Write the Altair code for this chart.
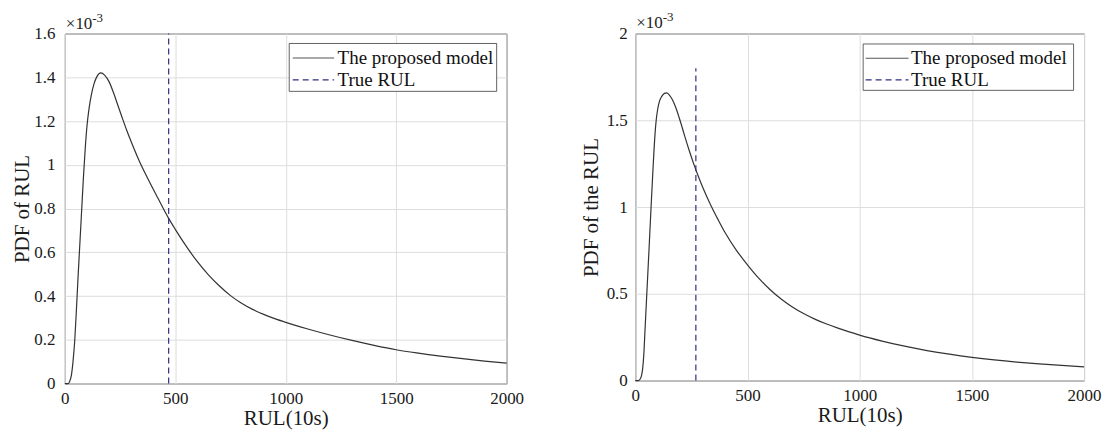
import altair as alt
import pandas as pd

FONT = "Liberation Serif"

# ---------------- data ----------------
x_ticks = [0, 500, 1000, 1500, 2000]

left_rul = [0, 15, 22, 30, 37, 45, 52, 60, 68, 76,
            84, 92, 100, 110, 120, 132, 145, 163, 180, 200,
            220, 240, 260, 280, 300, 340, 380, 420, 470, 500,
            550, 600, 650, 700, 750, 800, 850, 900, 950, 1000,
            1100, 1200, 1300, 1400, 1500, 1600, 1700, 1800, 1900, 2000]
left_pdf = [0, 0, 0.01, 0.04, 0.1, 0.2, 0.33, 0.49, 0.64, 0.79,
            0.94, 1.07, 1.175, 1.26, 1.32, 1.37, 1.403, 1.42, 1.41, 1.38,
            1.33, 1.272, 1.214, 1.158, 1.106, 1.01, 0.928, 0.85, 0.755, 0.705,
            0.627, 0.557, 0.497, 0.446, 0.402, 0.367, 0.339, 0.316, 0.2965, 0.2795,
            0.2495, 0.222, 0.197, 0.1745, 0.1545, 0.139, 0.1255, 0.1135, 0.1028, 0.093]
left_true_rul = [470]
left_rule_bottom = [0]
left_rule_top = [1.6]
left_yticks = [0, 0.2, 0.4, 0.6, 0.8, 1, 1.2, 1.4, 1.6]

right_rul = [0, 13, 20, 28, 33, 38, 43, 51, 61, 70,
             80, 88, 94, 100, 108, 118, 130, 140, 150, 165,
             180, 200, 220, 240, 260, 280, 300, 320, 342, 370,
             400, 450, 500, 550, 600, 650, 700, 750, 800, 850,
             900, 950, 1000, 1100, 1200, 1300, 1400, 1500, 1600, 1700,
             1800, 1900, 2000]
right_pdf = [0, 0, 0.005, 0.03, 0.07, 0.15, 0.28, 0.49, 0.75, 0.99,
             1.245, 1.42, 1.51, 1.565, 1.61, 1.638, 1.655, 1.658, 1.648, 1.62,
             1.575, 1.497, 1.41, 1.327, 1.25, 1.18, 1.116, 1.057, 0.996, 0.925,
             0.853, 0.752, 0.667, 0.59, 0.525, 0.47, 0.424, 0.386, 0.354, 0.327,
             0.3035, 0.282, 0.262, 0.2275, 0.198, 0.173, 0.152, 0.134, 0.119, 0.1065,
             0.096, 0.087, 0.079]
right_true_rul = [270]
right_rule_bottom = [0]
right_rule_top = [1.8]
right_yticks = [0, 0.5, 1, 1.5, 2]

legend_labels = ["The proposed model", "True RUL"]
exponent_base = "\u00d710"
exponent_power = "-3"

CURVE_COLOR = "#333333"
RUL_COLOR = "#2e2e7e"
ONE = alt.Data(values=[{"k": 1}])


def panel(rul, pdf, true_rul, rule_bottom, rule_top, yticks, ytitle, width, height,
          ytitle_pad, ylabel_pad, leg, exp_y):
    curve_df = pd.DataFrame({"RUL": rul, "PDF": pdf})
    rule_df = pd.DataFrame({"RUL": true_rul, "PDF": rule_bottom, "PDF_top": rule_top})

    xaxis = alt.Axis(values=x_ticks, format="d", title="RUL(10s)", titlePadding=1,
                     labelPadding=7, labelFlush=False)
    yaxis = alt.Axis(values=yticks, format="~g", title=ytitle, titlePadding=ytitle_pad,
                     labelPadding=ylabel_pad, labelFlush=False)
    xscale = alt.Scale(domain=[0, 2000], nice=False, zero=False)
    yscale = alt.Scale(domain=[0, yticks[-1]], nice=False)

    curve = alt.Chart(curve_df).mark_line(
        color=CURVE_COLOR, strokeWidth=1.2, interpolate="monotone"
    ).encode(
        x=alt.X("RUL:Q", scale=xscale, axis=xaxis),
        y=alt.Y("PDF:Q", scale=yscale, axis=yaxis),
    )
    rule = alt.Chart(rule_df).mark_rule(
        color=RUL_COLOR, strokeWidth=1.2, strokeDash=[6, 4]
    ).encode(
        x=alt.X("RUL:Q", scale=xscale, axis=xaxis),
        y=alt.Y("PDF:Q", scale=yscale, axis=yaxis),
        y2="PDF_top:Q",
    )

    bx1, bx2, by1, by2, sx1, sx2, tx, r1, r2 = leg
    box = alt.Chart(ONE).mark_rect(fill="white", stroke="#3c3c3c", strokeWidth=0.8).encode(
        x=alt.value(bx1), x2=alt.value(bx2), y=alt.value(by1), y2=alt.value(by2))
    sym1 = alt.Chart(ONE).mark_rule(color="#555555", strokeWidth=1.1).encode(
        x=alt.value(sx1), x2=alt.value(sx2), y=alt.value(r1))
    sym2 = alt.Chart(ONE).mark_rule(color=RUL_COLOR, strokeWidth=1.1, strokeDash=[6, 4]).encode(
        x=alt.value(sx1), x2=alt.value(sx2), y=alt.value(r2))
    txt1 = alt.Chart(ONE).mark_text(align="left", baseline="middle", font=FONT, fontSize=19,
                                    color="#111111").encode(
        x=alt.value(tx), y=alt.value(r1), text=alt.value(legend_labels[0]))
    txt2 = alt.Chart(ONE).mark_text(align="left", baseline="middle", font=FONT, fontSize=19,
                                    color="#111111").encode(
        x=alt.value(tx), y=alt.value(r2), text=alt.value(legend_labels[1]))

    e_base, e_pow = exp_y
    exp1 = alt.Chart(ONE).mark_text(align="left", baseline="middle", font=FONT, fontSize=17,
                                    color="#222222").encode(
        x=alt.value(1), y=alt.value(e_base), text=alt.value(exponent_base))
    exp2 = alt.Chart(ONE).mark_text(align="left", baseline="middle", font=FONT, fontSize=13,
                                    color="#222222").encode(
        x=alt.value(27.5), y=alt.value(e_pow), text=alt.value(exponent_power))

    return alt.layer(curve, rule, box, sym1, sym2, txt1, txt2, exp1, exp2).properties(
        width=width, height=height)


left = panel(left_rul, left_pdf, left_true_rul, left_rule_bottom, left_rule_top, left_yticks,
             "PDF of RUL", 443, 351, 1, 10,
             (225, 433, 10, 58, 228.5, 270, 273.5, 24.5, 46.5), (-9.5, -16))
right = panel(right_rul, right_pdf, right_true_rul, right_rule_bottom, right_rule_top, right_yticks,
              "PDF of the RUL", 450, 348, 5, 8,
              (228.5, 439.5, 10.5, 57, 231, 274, 276.5, 24.8, 46.5), (-11, -16.5))

chart = alt.hconcat(left, right, spacing=129, bounds="flush").properties(
    padding={"left": 3, "top": 2, "right": 0, "bottom": 0}
).configure_view(
    stroke="#3c3c3c", strokeWidth=1
).configure_axis(
    labelFont=FONT, titleFont=FONT, labelFontSize=17, titleFontSize=21,
    labelColor="#1a1a1a", titleColor="#1a1a1a", titleFontWeight="normal",
    gridColor="#dddddd", gridWidth=1, domain=False, ticks=False,
)

chart.save("out.html", embed_options={"renderer": "svg", "actions": False})
